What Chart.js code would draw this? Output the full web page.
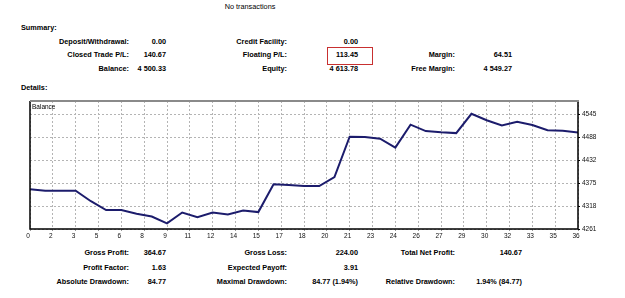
<!DOCTYPE html>
<html>
<head>
<meta charset="utf-8">
<script src="https://cdn.jsdelivr.net/npm/chart.js@4/dist/chart.umd.min.js"></script>
<style>
    body { margin: 0; background: #fff; }
    #page { position: relative; width: 625px; height: 298px; overflow: hidden; font-family: 'Liberation Sans', Arial, sans-serif; color: #000; }
    .t { position: absolute; font-size: 7.3px; font-weight: bold; line-height: 10px; white-space: nowrap; }
    .r { text-align: right; }
    #balanceChart { position: absolute; left: 0; top: 95px; }
    #redBox { position: absolute; left: 327px; top: 47px; width: 44px; height: 16px; border: 1px solid #c83030; }
</style>
</head>
<body>
<div id="page">
    <canvas id="balanceChart" width="625" height="145"></canvas>
    <div id="redBox"></div>
</div>
<script>
// trade index 0..36, balance after each trade
const balance = [
    4359.66, 4356, 4356, 4356, 4330, 4308, 4308, 4299, 4292, 4274.89,
    4302, 4290, 4302, 4297, 4307, 4303, 4372, 4370, 4368, 4367.5,
    4390, 4490, 4489.5, 4485, 4463, 4520, 4504, 4501, 4499, 4547,
    4531, 4518, 4527, 4519, 4506, 4505, 4500.33
];
const xTickLabels = ['0', '2', '3', '5', '6', '8', '9', '11', '12', '14', '15', '17', '18',
    '20', '21', '23', '24', '26', '27', '29', '30', '32', '33', '35', '36'];
const yTickLabels = ['4261', '4318', '4375', '4432', '4488', '4545'];
const yTickValues = [4261, 4317.85, 4374.7, 4431.55, 4488.4, 4545.25];

// summary / details tables: [label, value] per column, rows top to bottom
const summaryRows = [
    [['Deposit/Withdrawal:', '0.00'], ['Credit Facility:', '0.00'], null],
    [['Closed Trade P/L:', '140.67'], ['Floating P/L:', '113.45'], ['Margin:', '64.51']],
    [['Balance:', '4 500.33'], ['Equity:', '4 613.78'], ['Free Margin:', '4 549.27']]
];
const detailRows = [
    [['Gross Profit:', '364.67'], ['Gross Loss:', '224.00'], ['Total Net Profit:', '140.67']],
    [['Profit Factor:', '1.63'], ['Expected Payoff:', '3.91'], null],
    [['Absolute Drawdown:', '84.77'], ['Maximal Drawdown:', '84.77 (1.94%)'], ['Relative Drawdown:', '1.94% (84.77)']]
];

const page = document.getElementById('page');

function addText(text, x, y, align, bold) {
    const el = document.createElement('div');
    el.className = 't' + (align === 'right' ? ' r' : '');
    el.textContent = text;
    el.style.top = (y - 5) + 'px';
    if (align === 'right') el.style.right = (625 - x) + 'px';
    else if (align === 'center') { el.style.left = (x - 100) + 'px'; el.style.width = '200px'; el.style.textAlign = 'center'; }
    else el.style.left = x + 'px';
    if (!bold) el.style.fontWeight = 'normal';
    page.appendChild(el);
}

function addTable(rows, ys, valueEnds) {
    const labelEnds = [129, 287, 455];
    rows.forEach((row, r) => {
        row.forEach((cell, c) => {
            if (!cell) return;
            addText(cell[0], labelEnds[c], ys[r], 'right', true);
            addText(cell[1], valueEnds[c], ys[r], 'right', true);
        });
    });
}

addText('No transactions', 250, 7, 'center', false);
addText('Summary:', 21, 28, 'left', true);
addTable(summaryRows, [42, 55, 69], [166, 358, 512]);
addText('Details:', 21, 88, 'left', true);
addTable(detailRows, [253, 268, 282], [166, 358, 522]);

const framePlugin = {
    id: 'frame',
    afterDraw(chart) {
        const { ctx, chartArea: a } = chart;
        ctx.save();
        ctx.strokeStyle = '#000';
        ctx.lineWidth = 1.5;
        ctx.beginPath();
        ctx.moveTo(a.left, a.top);
        ctx.lineTo(a.left, a.bottom);
        ctx.lineTo(a.right, a.bottom);
        ctx.lineTo(a.right, a.top);
        ctx.stroke();
        ctx.strokeStyle = '#8a8a8a';
        ctx.lineWidth = 2;
        ctx.beginPath();
        ctx.moveTo(a.left, a.top);
        ctx.lineTo(a.right + 1, a.top);
        ctx.stroke();
        ctx.fillStyle = '#000';
        ctx.font = '6.5px "Liberation Sans", Arial, sans-serif';
        ctx.textBaseline = 'middle';
        ctx.fillText('Balance', a.left + 2, a.top + 6);
        ctx.restore();
    }
};

const tickFont = { family: "'Liberation Sans', Arial, sans-serif", size: 6.5 };

new Chart(document.getElementById('balanceChart'), {
    type: 'line',
    data: {
        datasets: [{
            label: 'Balance',
            data: balance.map((v, i) => ({ x: i, y: v })),
            borderColor: '#1c1c6c',
            borderWidth: 2,
            pointRadius: 0,
            tension: 0
        }]
    },
    options: {
        responsive: false,
        devicePixelRatio: 1,
        animation: false,
        layout: { padding: { left: 30, top: 6, right: 0, bottom: 0 } },
        plugins: { legend: { display: false }, tooltip: { enabled: false } },
        scales: {
            x: {
                type: 'linear',
                min: 0,
                max: 36,
                afterBuildTicks: (scale) => {
                    scale.ticks = xTickLabels.map((l, i) => ({ value: i * 1.5 }));
                },
                afterFit: (scale) => { scale.height = 11; },
                grid: { color: '#b4b4b4', lineWidth: 1, tickColor: '#999', tickLength: 2, tickBorderDash: [] },
                border: { display: false, dash: [2, 2] },
                ticks: {
                    font: tickFont,
                    color: '#111',
                    padding: 1,
                    maxRotation: 0,
                    autoSkip: false,
                    labelOffset: -2,
                    callback: (v, i) => xTickLabels[i]
                }
            },
            y: {
                position: 'right',
                min: 4261,
                max: 4578.7,
                afterBuildTicks: (scale) => {
                    scale.ticks = yTickValues.map(v => ({ value: v }));
                },
                afterFit: (scale) => { scale.width = 47; },
                grid: { color: '#b4b4b4', lineWidth: 1, tickColor: '#000', tickLength: 2, tickBorderDash: [] },
                border: { display: false, dash: [2, 2] },
                ticks: {
                    font: tickFont,
                    color: '#111',
                    padding: 2,
                    callback: (v, i) => yTickLabels[i]
                }
            }
        }
    },
    plugins: [framePlugin]
});
</script>
</body>
</html>
